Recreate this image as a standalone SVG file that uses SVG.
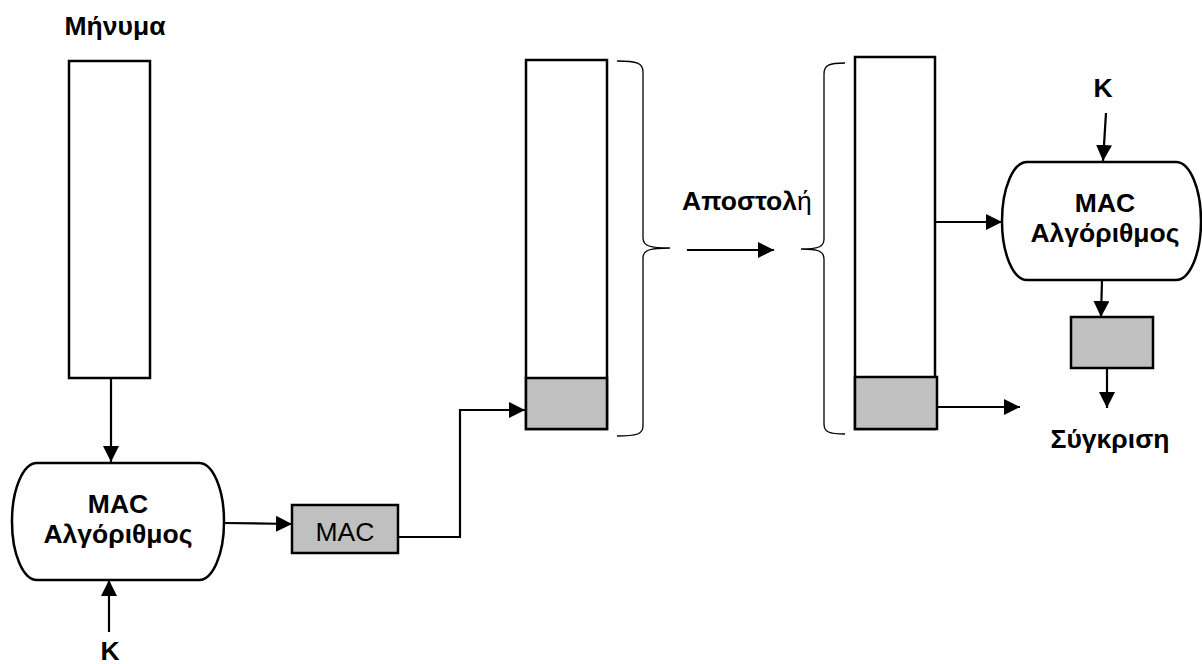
<svg xmlns="http://www.w3.org/2000/svg" width="1202" height="664" viewBox="0 0 1202 664">
<style>
.t{font-family:"Liberation Sans",Arial,sans-serif;font-size:26.5px;font-weight:bold;fill:#000;text-anchor:middle}
.r{font-weight:normal}
.box{fill:#fff;stroke:#000;stroke-width:2.5}
.gray{fill:#c0c0c0;stroke:#000;stroke-width:2.5}
.ln{fill:none;stroke:#000;stroke-width:2.2}
.br{fill:none;stroke:#000;stroke-width:1.3}
</style>
<defs>
<marker id="ah" markerUnits="userSpaceOnUse" markerWidth="17" markerHeight="17" refX="16" refY="8" orient="auto">
<path d="M0,0 L16,8 L0,16 z" fill="#000"/>
</marker>
</defs>
<g id="message">
<text class="t" x="115" y="35">Μήνυμα</text>
<rect class="box" x="69" y="61" width="81" height="317"/>
</g>
<g id="mac-alg-left">
<rect class="box" x="12" y="463" width="212" height="117" rx="25" ry="58"/>
<text class="t" x="118" y="513">MAC</text>
<text class="t" x="118" y="543">Αλγόριθμος</text>
</g>
<g id="k-left"><text class="t" x="110" y="660">K</text></g>
<g id="mac-box">
<rect class="gray" x="292" y="505" width="106" height="48"/>
<text class="t r" x="345" y="541">MAC</text>
</g>
<g id="sent-column">
<rect class="box" x="526" y="60" width="81" height="369"/>
<rect class="gray" x="526" y="378" width="81" height="51"/>
<path class="br" d="M617,61 C637,61 643,63 643,72 V238 C643,246 650,248 670,248 C650,248 643,250 643,258 V426 C643,434 637,436 617,436"/>
</g>
<g id="send-label">
<text class="t" x="682" y="210" style="text-anchor:start">Αποστολ<tspan class="r">ή</tspan></text>
</g>
<g id="received-column">
<path class="br" d="M845,63 C829,63 824,65 824,74 V239 C824,247 818,249 801,249 C818,249 824,251 824,259 V424 C824,432 829,434 845,434"/>
<rect class="box" x="855" y="57" width="80" height="372"/>
<rect class="gray" x="855" y="377" width="82" height="52"/>
</g>
<g id="k-right"><text class="t" x="1103" y="97">K</text></g>
<g id="mac-alg-right">
<rect class="box" x="1002" y="162" width="199" height="118" rx="25" ry="59"/>
<text class="t" x="1105" y="212">MAC</text>
<text class="t" x="1105" y="242">Αλγόριθμος</text>
</g>
<g id="mac-box-right">
<rect class="gray" x="1071" y="317" width="82" height="51"/>
</g>
<g id="compare"><text class="t" x="1110" y="448">Σύγκριση</text></g>
<g id="connectors">
<path class="ln" d="M111,378 L111,462" marker-end="url(#ah)"/>
<path class="ln" d="M109,632 L109,580" marker-end="url(#ah)"/>
<path class="ln" d="M224,523 L292,524" marker-end="url(#ah)"/>
<path class="ln" d="M398,537 H460 V410 H525" marker-end="url(#ah)"/>
<path class="ln" d="M687,250 H774" marker-end="url(#ah)"/>
<path class="ln" d="M935,222 H1002" marker-end="url(#ah)"/>
<path class="ln" d="M1106,113 L1103,161" marker-end="url(#ah)"/>
<path class="ln" d="M1102,280 L1101,317" marker-end="url(#ah)"/>
<path class="ln" d="M1107,368 L1107,408" marker-end="url(#ah)"/>
<path class="ln" d="M937,407 H1020" marker-end="url(#ah)"/>
</g>
</svg>
